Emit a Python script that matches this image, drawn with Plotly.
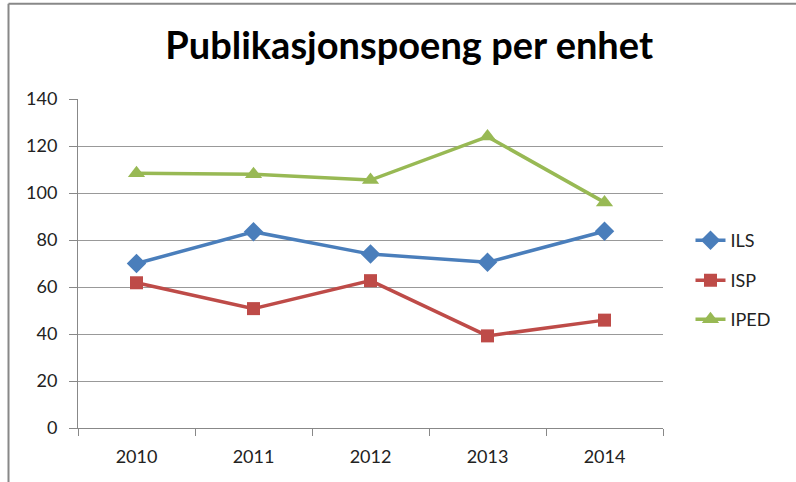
import plotly.graph_objects as go

years = ["2010", "2011", "2012", "2013", "2014"]
ils = [70, 83.5, 74, 70.5, 83.7]
isp = [61.8, 50.8, 62.7, 39.2, 45.9]
iped = [108.4, 108, 105.5, 124, 96]
y_ticks = [0, 20, 40, 60, 80, 100, 120, 140]

series = [
    ("ILS", ils, "#4A7EBB", "diamond", 15, "legend"),
    ("ISP", isp, "#BE4B48", "square", 13, "legend2"),
    ("IPED", iped, "#98B954", "triangle-up", 15, "legend3"),
]

fig = go.Figure()
for name, vals, col, sym, sz, lg in series:
    fig.add_trace(go.Scatter(
        x=years, y=vals, name=name, mode="lines+markers",
        line=dict(color=col, width=3.5),
        marker=dict(symbol=sym, size=sz, color=col),
        legend=lg, showlegend=True,
    ))

font = "Lato, 'Open Sans', sans-serif"
leg_common = dict(xanchor="left", yanchor="middle", bgcolor="rgba(0,0,0,0)",
                  font=dict(family=font, size=18, color="#222"))
fig.update_layout(
    width=796, height=482,
    showlegend=True,
    margin=dict(l=78, r=133, t=99, b=54),
    paper_bgcolor="white", plot_bgcolor="white",
    title=dict(text="<b>Publikasjonspoeng per enhet</b>", x=0.514, xanchor="center",
               y=0.905, yanchor="middle",
               font=dict(family=font, size=38, color="black")),
    legend=dict(x=1.047, y=0.57, **leg_common),
    legend2=dict(x=1.047, y=0.448, **leg_common),
    legend3=dict(x=1.047, y=0.33, **leg_common),
    xaxis=dict(type="category", tickson="boundaries", ticks="outside", ticklen=7,
               tickcolor="#888", showline=True, linecolor="#888", linewidth=1,
               showgrid=False, tickfont=dict(family=font, size=18, color="#222"),
               ticklabelstandoff=12, range=[-0.5, 4.5]),
    yaxis=dict(range=[0, 140], tickvals=y_ticks, ticks="outside", ticklen=8,
               tickcolor="#888", showline=True, linecolor="#888", linewidth=1,
               showgrid=True, gridcolor="#999", gridwidth=1, zeroline=False,
               ticklabelstandoff=8,
               tickfont=dict(family=font, size=18, color="#222")),
    shapes=[
        dict(type="line", xref="paper", yref="paper", x0=-0.1188, x1=-0.1188,
             y0=1.2894, y1=-0.2, line=dict(color="#888", width=2)),
        dict(type="line", xref="paper", yref="paper", x0=-0.1188, x1=1.3,
             y0=1.2894, y1=1.2894, line=dict(color="#888", width=2)),
    ],
)
fig.write_html("out.html", config={"displayModeBar": False},
               post_script="document.body.style.margin='0';document.body.style.overflow='hidden';")
